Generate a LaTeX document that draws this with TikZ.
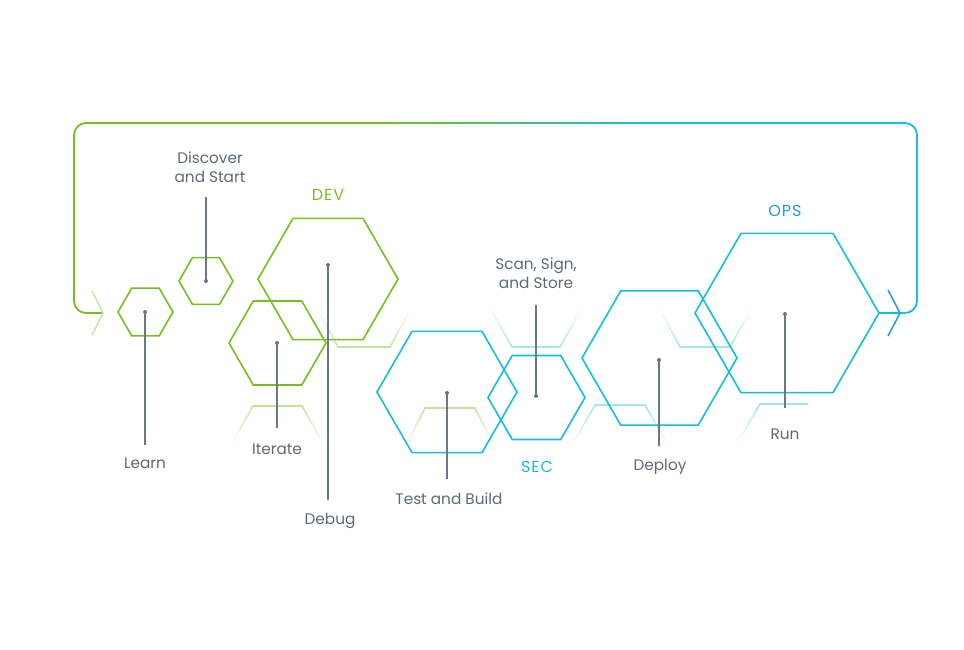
\documentclass[tikz,border=0pt]{standalone}
\usepackage{fontspec}
\setmainfont{Poppins}
\newfontfamily\phasefont[LetterSpace=6]{Poppins}
\usetikzlibrary{fadings}
\definecolor{cG}{HTML}{78BE20}
\definecolor{cC}{HTML}{14BFD6}
\definecolor{cB}{HTML}{1A9FD8}
\definecolor{cT}{HTML}{5C6A78}
\definecolor{cL}{HTML}{6B7785}
\tikzfading[name=fadeup, top color=transparent!100, bottom color=transparent!0]
\tikzfading[name=fadedown, top color=transparent!0, bottom color=transparent!100]
\newcommand\hexa[4]{\draw[#1] (#2,#3) +(0:#4) -- +(60:#4) -- +(120:#4) -- +(180:#4) -- +(240:#4) -- +(300:#4) -- cycle;}
\begin{document}
\begin{tikzpicture}[x=1pt,y=-1pt,
  hexG/.style={draw=cG, line width=1.6pt},
  hexC/.style={draw=cC, line width=1.6pt},
  ghostG/.style={draw=cG!45, line width=1.6pt},
  ghostC/.style={draw=cC!40, line width=1.6pt},
  lead/.style={draw=cL, line width=1.5pt},
  dot/.style={circle, fill=cL, inner sep=0pt, minimum size=4pt},
  lbl/.style={text=cT, font=\fontsize{15.3}{19}\selectfont, align=center, inner sep=0pt},
  phase/.style={font=\phasefont\fontsize{16}{18}\selectfont, inner sep=0pt}]
\useasboundingbox (0,0) rectangle (964,649);

% faint ghost hexagon halves
\draw[ghostG, path fading=fadeup] (318,310) -- (338,347) -- (390,347) -- (410,310);
\draw[ghostG, path fading=fadedown] (232,443) -- (253,406) -- (302,406) -- (323,443);
\draw[ghostG, path fading=fadedown] (407,443) -- (425,408) -- (475,408) -- (493,443);
\draw[ghostC, path fading=fadeup] (490,308) -- (512,347) -- (560,347) -- (582,308);
\draw[ghostC, path fading=fadeup] (660,310) -- (680,347) -- (730,347) -- (752,308);
\draw[ghostC, path fading=fadedown] (573,443) -- (595,405) -- (645,405) -- (667,443);
\draw[ghostC, path fading=fadedown] (737,443) -- (760,404) -- (808,404);

% loop
\coordinate (learnIn) at (103,313);
\coordinate (opsOut) at (879,313);
\draw[cG, line width=1.8pt, rounded corners=12] (learnIn) -- (74,313) -- (74,123) -- (381,123);
\foreach \i in {0,...,55}{
  \pgfmathtruncatemacro\p{100-\i*100/55}
  \draw[cG!\p!cC, line width=1.8pt] (380+\i*5,123) -- (386+\i*5,123);
}
\draw[cC, line width=1.8pt, rounded corners=12] (659,123) -- (917,123) -- (917,313) -- (opsOut);
\draw[cG!40, line width=1.5pt] (92,291) -- (learnIn) -- (92,335);
\draw[cB, line width=1.5pt] (888,290) -- (900,313) -- (888,336);

% hexagons
\hexa{hexG}{145.5}{312}{27.5}
\hexa{hexG}{206}{281}{27}
\hexa{hexG}{328}{279}{70}
\hexa{hexG}{277.5}{343}{48.5}
\hexa{hexC}{447}{392}{70}
\hexa{hexC}{536.5}{397.5}{48.5}
\hexa{hexC}{659.5}{358}{77.5}
\hexa{hexC}{787}{313}{92}

% phase labels
\node[phase, text=cG] (dev) at (328,195) {DEV};
\node[phase, text=cC] (sec) at (537,467) {SEC};
\node[phase, text=cB] (ops) at (785,211) {OPS};

% dots
\node[dot] (dLearn) at (145,312) {};
\node[dot] (dDisc) at (206,281) {};
\node[dot] (dDebug) at (328,265) {};
\node[dot] (dIter) at (277,343) {};
\node[dot] (dTest) at (447,393) {};
\node[dot] (dScan) at (536,396) {};
\node[dot] (dDeploy) at (659,360) {};
\node[dot] (dRun) at (785,314) {};

% leader ends
\coordinate (eLearn) at (145,445);
\coordinate (eDisc) at (206,197);
\coordinate (eDebug) at (328,500);
\coordinate (eIter) at (277,428);
\coordinate (eTest) at (447,479);
\coordinate (eScan) at (536,305);
\coordinate (eDeploy) at (659,446);
\coordinate (eRun) at (785,408);

\draw[lead] (dLearn.center) -- (eLearn);
\draw[lead] (dDisc.center) -- (eDisc);
\draw[lead] (dDebug.center) -- (eDebug);
\draw[lead] (dIter.center) -- (eIter);
\draw[lead] (dTest.center) -- (eTest);
\draw[lead] (dScan.center) -- (eScan);
\draw[lead] (dDeploy.center) -- (eDeploy);
\draw[lead] (dRun.center) -- (eRun);

% labels
\node[lbl] (tLearn) at (145,463) {Learn};
\node[lbl] (tDisc) at (210,167.5) {Discover\\and Start};
\node[lbl] (tIter) at (277,449) {Iterate};
\node[lbl] (tDebug) at (330,521) {Debug};
\node[lbl] (tTest) at (449,499) {Test and Build};
\node[lbl] (tScan) at (536,273.5) {Scan, Sign,\\and Store};
\node[lbl] (tDeploy) at (660,467) {Deploy};
\node[lbl] (tRun) at (785,434) {Run};
\end{tikzpicture}
\end{document}
